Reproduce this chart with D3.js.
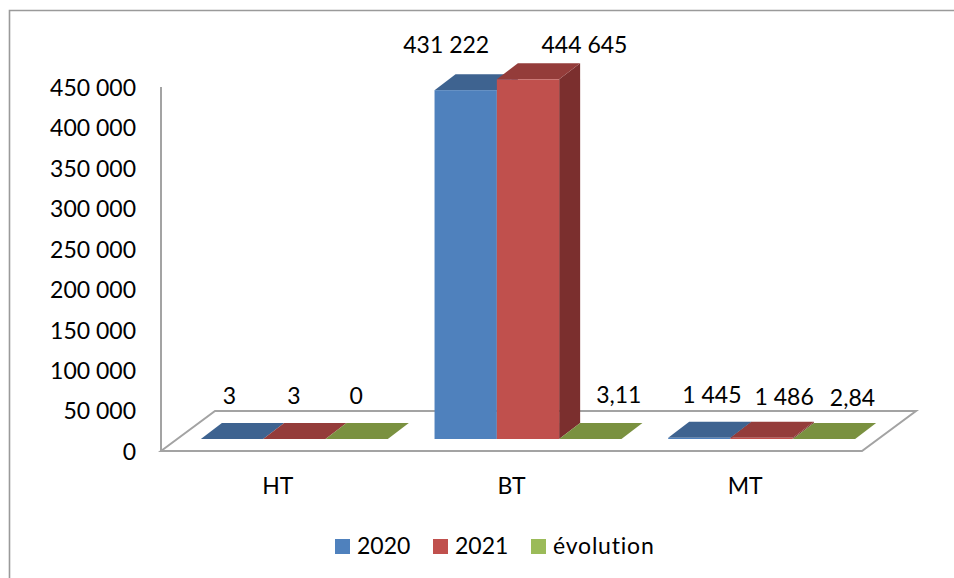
<!DOCTYPE html>
<html>
<head>
<meta charset="utf-8">
<script src="https://cdn.jsdelivr.net/npm/d3@7"></script>
<style>
  html, body { margin: 0; padding: 0; background: #fff; }
  svg { display: block; }
  text { font-family: Lato, "Open Sans", sans-serif; font-size: 23px; fill: #000; }
</style>
</head>
<body>
<svg id="chart" width="954" height="578"></svg>
<script>
const categories = ["HT", "BT", "MT"];
const seriesNames = ["2020", "2021", "évolution"];
const values2020 = [3, 431222, 1445];
const values2021 = [3, 444645, 1486];
const valuesEvolution = [0, 3.11, 2.84];
const tickValues = [0, 50000, 100000, 150000, 200000, 250000, 300000, 350000, 400000, 450000];

// Hand-placed label offsets from the top-centre of each bar, by series then category
const labelNudgeX = [[-13, -30, 2], [-11, 46, 12], [-11, 18, 18]];
const labelBaselineY = [[404, 53, 403], [404, 53, 405], [404, 403, 406]];

const faceColors = ["#4F81BD", "#C0504D", "#9BBB59"];
const topColors = ["#3E6390", "#943C3A", "#7A9140"];
const sideColors = ["#33527A", "#7B2F2E", "#647835"];
const lineColor = "#A3A3A3";

const seriesValues = [values2020, values2021, valuesEvolution];
const fr = d3.formatLocale({ decimal: ",", thousands: " ", grouping: [3], currency: ["", " €"] });
const fmtInt = fr.format(",d");
const fmtVal = v => Number.isInteger(v) ? fmtInt(v) : fr.format(".2f")(v);

// Oblique projection of the 3D plot box
const depthX = 21, depthY = 16;
const floorDepthX = 54, floorDepthY = 40;
const floorFrontY = 451, floorLeft = 161, floorRight = 862;
const barBaseY = 439;
const barShift = 16.5;
const unitHeight = 364;

const svg = d3.select("#chart");

// Chart frame: left and top edges only
svg.append("path")
  .attr("d", "M9.5,578V10.5H954")
  .attr("fill", "none")
  .attr("stroke", "#9A9A9A")
  .attr("stroke-width", 1.6);

const x = d3.scaleBand().domain(categories).range([floorLeft, floorRight]);
const s = d3.scaleBand().domain(d3.range(3)).range([0, x.bandwidth() * 0.8]);
const axisY = d3.scaleLinear().domain([0, 450000]).range([floorFrontY, floorFrontY - unitHeight]);
const barY = d3.scaleLinear().domain([0, 450000]).range([barBaseY, barBaseY - unitHeight]);

// Floor and vertical wall edge
const floorPoints = [
  [floorLeft, floorFrontY],
  [floorLeft + floorDepthX, floorFrontY - floorDepthY],
  [floorRight + floorDepthX, floorFrontY - floorDepthY],
  [floorRight, floorFrontY]
];
svg.append("path")
  .attr("d", d3.line()(floorPoints) + "Z")
  .attr("fill", "#fff")
  .attr("stroke", lineColor)
  .attr("stroke-width", 2);
svg.append("line")
  .attr("x1", floorLeft).attr("x2", floorLeft)
  .attr("y1", floorFrontY).attr("y2", axisY(450000))
  .attr("stroke", lineColor)
  .attr("stroke-width", 2);

// Value axis, with the domain and tick marks hidden
const yAxis = d3.axisLeft(axisY).tickValues(tickValues).tickFormat(fmtInt).tickSize(0).tickPadding(25);
const yG = svg.append("g").attr("transform", `translate(${floorLeft},1)`).call(yAxis);
yG.select(".domain").remove();
yG.attr("font-size", null).attr("font-family", null);

// Category labels
svg.selectAll(".cat").data(categories).join("text")
  .attr("class", "cat")
  .attr("x", d => x(d) + x.bandwidth() / 2)
  .attr("y", 494)
  .attr("text-anchor", "middle")
  .text(d => d);

// Bars, painted left to right so each covers its neighbour's side face
const bars = [];
categories.forEach((c, ci) => seriesValues.forEach((vals, si) => bars.push({ c, ci, si, v: vals[ci] })));

const gap = (x.bandwidth() - s.bandwidth() * 3) / 2;
const left = d => x(d.c) + gap + barShift + s(d.si);
const bw = s.bandwidth();
const poly = pts => d3.line()(pts) + "Z";

const barG = svg.selectAll(".bar").data(bars).join("g").attr("class", "bar");
barG.append("path")
  .attr("fill", d => sideColors[d.si])
  .attr("d", d => {
    const r = left(d) + bw, t = barY(d.v);
    return poly([[r, t], [r + depthX, t - depthY], [r + depthX, barBaseY - depthY], [r, barBaseY]]);
  });
barG.append("path")
  .attr("fill", d => topColors[d.si])
  .attr("d", d => {
    const l = left(d), t = barY(d.v);
    return poly([[l, t], [l + depthX, t - depthY], [l + bw + depthX, t - depthY], [l + bw, t]]);
  });
barG.append("rect")
  .attr("fill", d => faceColors[d.si])
  .attr("x", left)
  .attr("y", d => barY(d.v))
  .attr("width", bw)
  .attr("height", d => barBaseY - barY(d.v));

// Value labels
svg.selectAll(".val").data(bars).join("text")
  .attr("class", "val")
  .attr("text-anchor", "middle")
  .attr("x", d => left(d) + bw / 2 + depthX / 2 + labelNudgeX[d.si][d.ci])
  .attr("y", d => labelBaselineY[d.si][d.ci])
  .text(d => fmtVal(d.v));

// Legend
const legendX = [335, 433, 531];
const legend = svg.selectAll(".lg").data(seriesNames).join("g").attr("class", "lg")
  .attr("transform", (d, i) => `translate(${legendX[i]},539)`);
legend.append("rect").attr("width", 15).attr("height", 15).attr("fill", (d, i) => faceColors[i]);
legend.append("text").attr("x", 22).attr("y", 15)
  .attr("letter-spacing", (d, i) => i === 2 ? 0.8 : 0)
  .text(d => d);
</script>
</body>
</html>
